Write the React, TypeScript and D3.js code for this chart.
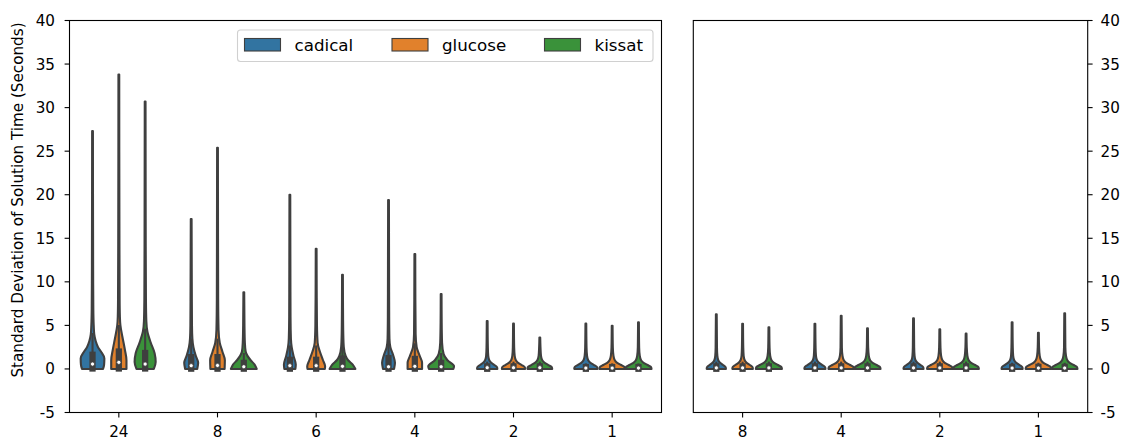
import React from "react";
import * as d3 from "d3";

const solvers = ["cadical", "glucose", "kissat"];
const colors = ["#3274a1", "#e1812c", "#3a923a"];
const leftGroups = ["24", "8", "6", "4", "2", "1"];
const rightGroups = ["8", "4", "2", "1"];
const yTicks = [-5, 0, 5, 10, 15, 20, 25, 30, 35, 40];
const yLabel = "Standard Deviation of Solution Time (Seconds)";

// [group][solver]
const leftMedian = [[0.56, 0.76, 0.56], [0.37, 0.4, 0.25], [0.37, 0.37, 0.3], [0.25, 0.3, 0.25], [0.14, 0.14, 0.14], [0.1, 0.1, 0.1]];
const leftQ1 = [[0.05, 0.05, 0.05], [0.03, 0.03, 0.03], [0.03, 0.03, 0.03], [0.03, 0.03, 0.03], [0.02, 0.02, 0.02], [0.02, 0.02, 0.02]];
const leftQ3 = [[1.63, 2.0, 1.83], [1.36, 1.36, 0.7], [1.05, 1.05, 1.2], [1.25, 1.15, 0.7], [0.3, 0.3, 0.3], [0.22, 0.22, 0.22]];
const rightMedian = [[0.12, 0.12, 0.12], [0.12, 0.12, 0.12], [0.12, 0.12, 0.12], [0.1, 0.1, 0.1]];
const rightQ1 = [[0.02, 0.02, 0.02], [0.02, 0.02, 0.02], [0.02, 0.02, 0.02], [0.02, 0.02, 0.02]];
const rightQ3 = [[0.3, 0.3, 0.3], [0.3, 0.3, 0.3], [0.3, 0.3, 0.3], [0.25, 0.25, 0.25]];

// density profiles: [value, width as share of the violin slot]; the last point is the maximum
const leftProfiles: number[][][][] = [
  [
    [[0, 0.8], [0.5, 0.88], [1.2, 0.9], [2, 0.64], [2.5, 0.42], [3.2, 0.24], [4, 0.13], [5, 0.09], [7, 0.06], [12, 0.045], [27.3, 0.03]],
    [[0, 0.58], [1, 0.58], [2.2, 0.46], [3.7, 0.27], [5, 0.12], [6, 0.08], [8, 0.06], [15, 0.045], [33.8, 0.03]],
    [[0, 0.66], [0.8, 0.8], [1.8, 0.72], [3, 0.43], [4.3, 0.17], [5.5, 0.09], [8, 0.06], [14, 0.045], [30.7, 0.03]],
  ],
  [
    [[0, 0.46], [0.7, 0.53], [1.5, 0.35], [2.5, 0.17], [3.5, 0.09], [5, 0.06], [10, 0.045], [17.2, 0.03]],
    [[0, 0.54], [1, 0.56], [2, 0.37], [3, 0.17], [4.5, 0.08], [8, 0.05], [15, 0.04], [25.4, 0.03]],
    [[0, 0.98], [0.5, 0.82], [1, 0.52], [1.5, 0.28], [2, 0.14], [3, 0.08], [5, 0.05], [8.8, 0.03]],
  ],
  [
    [[0, 0.42], [0.5, 0.45], [1.5, 0.28], [2.5, 0.14], [3.5, 0.08], [6, 0.05], [12, 0.04], [20, 0.03]],
    [[0, 0.66], [0.3, 0.68], [1, 0.52], [2, 0.28], [3, 0.11], [5, 0.06], [9, 0.04], [13.8, 0.03]],
    [[0, 0.98], [0.5, 0.78], [1, 0.43], [1.5, 0.24], [2.5, 0.1], [4, 0.06], [7, 0.04], [10.8, 0.03]],
  ],
  [
    [[0, 0.42], [0.7, 0.49], [1.6, 0.35], [2.5, 0.14], [3.5, 0.07], [6, 0.05], [12, 0.04], [19.4, 0.03]],
    [[0, 0.55], [0.7, 0.55], [1.5, 0.37], [2.5, 0.14], [4, 0.06], [8, 0.04], [13.2, 0.03]],
    [[0, 0.93], [0.3, 0.98], [1, 0.48], [1.7, 0.19], [3, 0.07], [5.5, 0.04], [8.6, 0.03]],
  ],
  [
    [[0, 0.77], [0.2, 0.75], [0.45, 0.54], [0.7, 0.31], [1, 0.16], [1.5, 0.08], [2.5, 0.05], [5.5, 0.03]],
    [[0, 0.88], [0.2, 0.86], [0.45, 0.62], [0.7, 0.35], [1, 0.18], [1.5, 0.09], [2.5, 0.05], [5.2, 0.03]],
    [[0, 0.94], [0.2, 0.91], [0.45, 0.65], [0.7, 0.37], [1, 0.19], [1.5, 0.09], [2.5, 0.05], [3.6, 0.03]],
  ],
  [
    [[0, 0.88], [0.2, 0.86], [0.45, 0.62], [0.7, 0.35], [1, 0.18], [1.5, 0.09], [2.5, 0.05], [5.2, 0.03]],
    [[0, 0.97], [0.2, 0.94], [0.45, 0.68], [0.7, 0.38], [1, 0.2], [1.5, 0.1], [2.5, 0.05], [4.96, 0.03]],
    [[0, 0.99], [0.2, 0.96], [0.45, 0.69], [0.7, 0.39], [1, 0.2], [1.5, 0.1], [2.5, 0.05], [5.35, 0.03]],
  ],
];

const rightProfiles: number[][][][] = [
  [
    [[0, 0.73], [0.2, 0.71], [0.45, 0.51], [0.7, 0.29], [1, 0.15], [1.5, 0.08], [2.5, 0.05], [6.27, 0.03]],
    [[0, 0.78], [0.2, 0.76], [0.45, 0.55], [0.7, 0.31], [1, 0.16], [1.5, 0.08], [2.5, 0.05], [5.19, 0.03]],
    [[0, 0.99], [0.2, 0.96], [0.45, 0.69], [0.7, 0.39], [1, 0.2], [1.5, 0.1], [2.5, 0.05], [4.78, 0.03]],
  ],
  [
    [[0, 0.8], [0.2, 0.78], [0.45, 0.56], [0.7, 0.32], [1, 0.16], [1.5, 0.08], [2.5, 0.05], [5.19, 0.03]],
    [[0, 0.97], [0.2, 0.94], [0.45, 0.68], [0.7, 0.38], [1, 0.2], [1.5, 0.1], [2.5, 0.05], [6.1, 0.03]],
    [[0, 0.99], [0.2, 0.96], [0.45, 0.69], [0.7, 0.39], [1, 0.2], [1.5, 0.1], [2.5, 0.05], [4.66, 0.03]],
  ],
  [
    [[0, 0.76], [0.2, 0.74], [0.45, 0.53], [0.7, 0.3], [1, 0.15], [1.5, 0.08], [2.5, 0.05], [5.8, 0.03]],
    [[0, 0.97], [0.2, 0.94], [0.45, 0.68], [0.7, 0.38], [1, 0.2], [1.5, 0.1], [2.5, 0.05], [4.55, 0.03]],
    [[0, 0.97], [0.2, 0.94], [0.45, 0.68], [0.7, 0.38], [1, 0.2], [1.5, 0.1], [2.5, 0.05], [4.05, 0.03]],
  ],
  [
    [[0, 0.8], [0.2, 0.78], [0.45, 0.56], [0.7, 0.32], [1, 0.16], [1.5, 0.08], [2.5, 0.05], [5.35, 0.03]],
    [[0, 0.97], [0.2, 0.94], [0.45, 0.68], [0.7, 0.38], [1, 0.2], [1.5, 0.1], [2.5, 0.05], [4.16, 0.03]],
    [[0, 0.97], [0.2, 0.94], [0.45, 0.68], [0.7, 0.38], [1, 0.2], [1.5, 0.1], [2.5, 0.05], [6.38, 0.03]],
  ],
];

const GRAY = "#3f3f3f";
const FONT = "DejaVu Sans, sans-serif";
const TICK_FS = 15.2;
const LABEL_FS = 15.2;
const LEGEND_FS = 16.7;
const TOP = 20.5;
const BOTTOM = 412.5;

const y = d3.scaleLinear().domain([-5, 40]).range([BOTTOM, TOP]);

type PanelProps = {
  groups: string[];
  x0: number;
  x1: number;
  profiles: number[][][][];
  med: number[][];
  q1: number[][];
  q3: number[][];
  side: "left" | "right";
  legend?: boolean;
};

function Panel({ groups, x0, x1, profiles, med, q1, q3, side, legend }: PanelProps) {
  const xb = d3.scaleBand().domain(groups).range([x0, x1]);
  const bw = xb.bandwidth();
  const hue = d3.scaleBand().domain(solvers).range([-0.4 * bw, 0.4 * bw]);
  const slot = hue.bandwidth();
  const violins: React.ReactNode[] = [];
  groups.forEach((g, gi) => {
    solvers.forEach((s, si) => {
      const cx = (xb(g) as number) + bw / 2 + (hue(s) as number) + slot / 2;
      const prof = profiles[gi][si];
      const area = d3
        .area<number[]>()
        .y((d) => y(d[0]))
        .x0((d) => cx - (d[1] * slot) / 2)
        .x1((d) => cx + (d[1] * slot) / 2)
        .curve(d3.curveMonotoneY);
      const mn = prof[0][0];
      const mx = prof[prof.length - 1][0];
      const a = q1[gi][si];
      const b = q3[gi][si];
      const iqr = b - a;
      const wLo = Math.max(mn, a - 1.5 * iqr);
      const wHi = Math.min(mx, b + 1.5 * iqr);
      violins.push(
        <g key={g + s}>
          <path d={area(prof) || ""} fill={colors[si]} stroke={GRAY} strokeWidth={2.1} strokeLinejoin="round" />
          <line x1={cx} x2={cx} y1={y(wLo)} y2={y(wHi)} stroke={GRAY} strokeWidth={2.1} strokeLinecap="square" />
          <line x1={cx} x2={cx} y1={y(a)} y2={y(b)} stroke={GRAY} strokeWidth={6.25} strokeLinecap="square" />
          <circle cx={cx} cy={y(med[gi][si])} r={2.1} fill="white" stroke={GRAY} strokeWidth={0.8} />
        </g>
      );
    });
  });

  const axisX = side === "left" ? x0 : x1;
  return (
    <g>
      {violins}
      {yTicks.map((t) => (
        <g key={t}>
          <line
            x1={axisX}
            x2={side === "left" ? axisX - 4.9 : axisX + 4.9}
            y1={y(t)}
            y2={y(t)}
            stroke="black"
            strokeWidth={1.1}
          />
          <text
            x={side === "left" ? axisX - 14.5 : axisX + 12.8}
            y={y(t)}
            dy="0.36em"
            textAnchor={side === "left" ? "end" : "start"}
            fontFamily={FONT}
            fontSize={TICK_FS}
            fill="black"
          >
            {String(t)}
          </text>
        </g>
      ))}
      {groups.map((g) => {
        const cx = (xb(g) as number) + bw / 2;
        return (
          <g key={g}>
            <line x1={cx} x2={cx} y1={BOTTOM} y2={BOTTOM + 4.9} stroke="black" strokeWidth={1.1} />
            <text x={cx} y={BOTTOM + 24} textAnchor="middle" fontFamily={FONT} fontSize={TICK_FS} fill="black">
              {g}
            </text>
          </g>
        );
      })}
      <rect x={x0} y={TOP} width={x1 - x0} height={BOTTOM - TOP} fill="none" stroke="black" strokeWidth={1.1} />
      {legend && (
        <g>
          <rect x={237.5} y={30} width={415.5} height={31.5} rx={3} fill="white" fillOpacity={0.8} stroke="#d0d0d0" strokeWidth={1.1} />
          {solvers.map((s, i) => {
            const lx = [244.5, 392, 544.5][i];
            return (
              <g key={s}>
                <rect x={lx} y={38.5} width={36} height={12.5} fill={colors[i]} stroke={GRAY} strokeWidth={1.1} />
                <text x={lx + 50} y={51} fontFamily={FONT} fontSize={LEGEND_FS} fill="black">
                  {s}
                </text>
              </g>
            );
          })}
        </g>
      )}
    </g>
  );
}

export default function App() {
  return (
    <svg
      width={1125}
      height={439}
      viewBox="0 0 1125 439"
      style={{ position: "absolute", left: 0, top: 0, background: "white" }}
    >
      <rect x={0} y={0} width={1125} height={439} fill="white" />
      <text
        transform={`translate(22.5,200) rotate(-90)`}
        textAnchor="middle"
        fontFamily={FONT}
        fontSize={LABEL_FS}
        fill="black"
      >
        {yLabel}
      </text>
      <Panel
        groups={leftGroups}
        x0={69.5}
        x1={661.5}
        profiles={leftProfiles}
        med={leftMedian}
        q1={leftQ1}
        q3={leftQ3}
        side="left"
        legend
      />
      <Panel
        groups={rightGroups}
        x0={693.3}
        x1={1087.7}
        profiles={rightProfiles}
        med={rightMedian}
        q1={rightQ1}
        q3={rightQ3}
        side="right"
      />
    </svg>
  );
}
